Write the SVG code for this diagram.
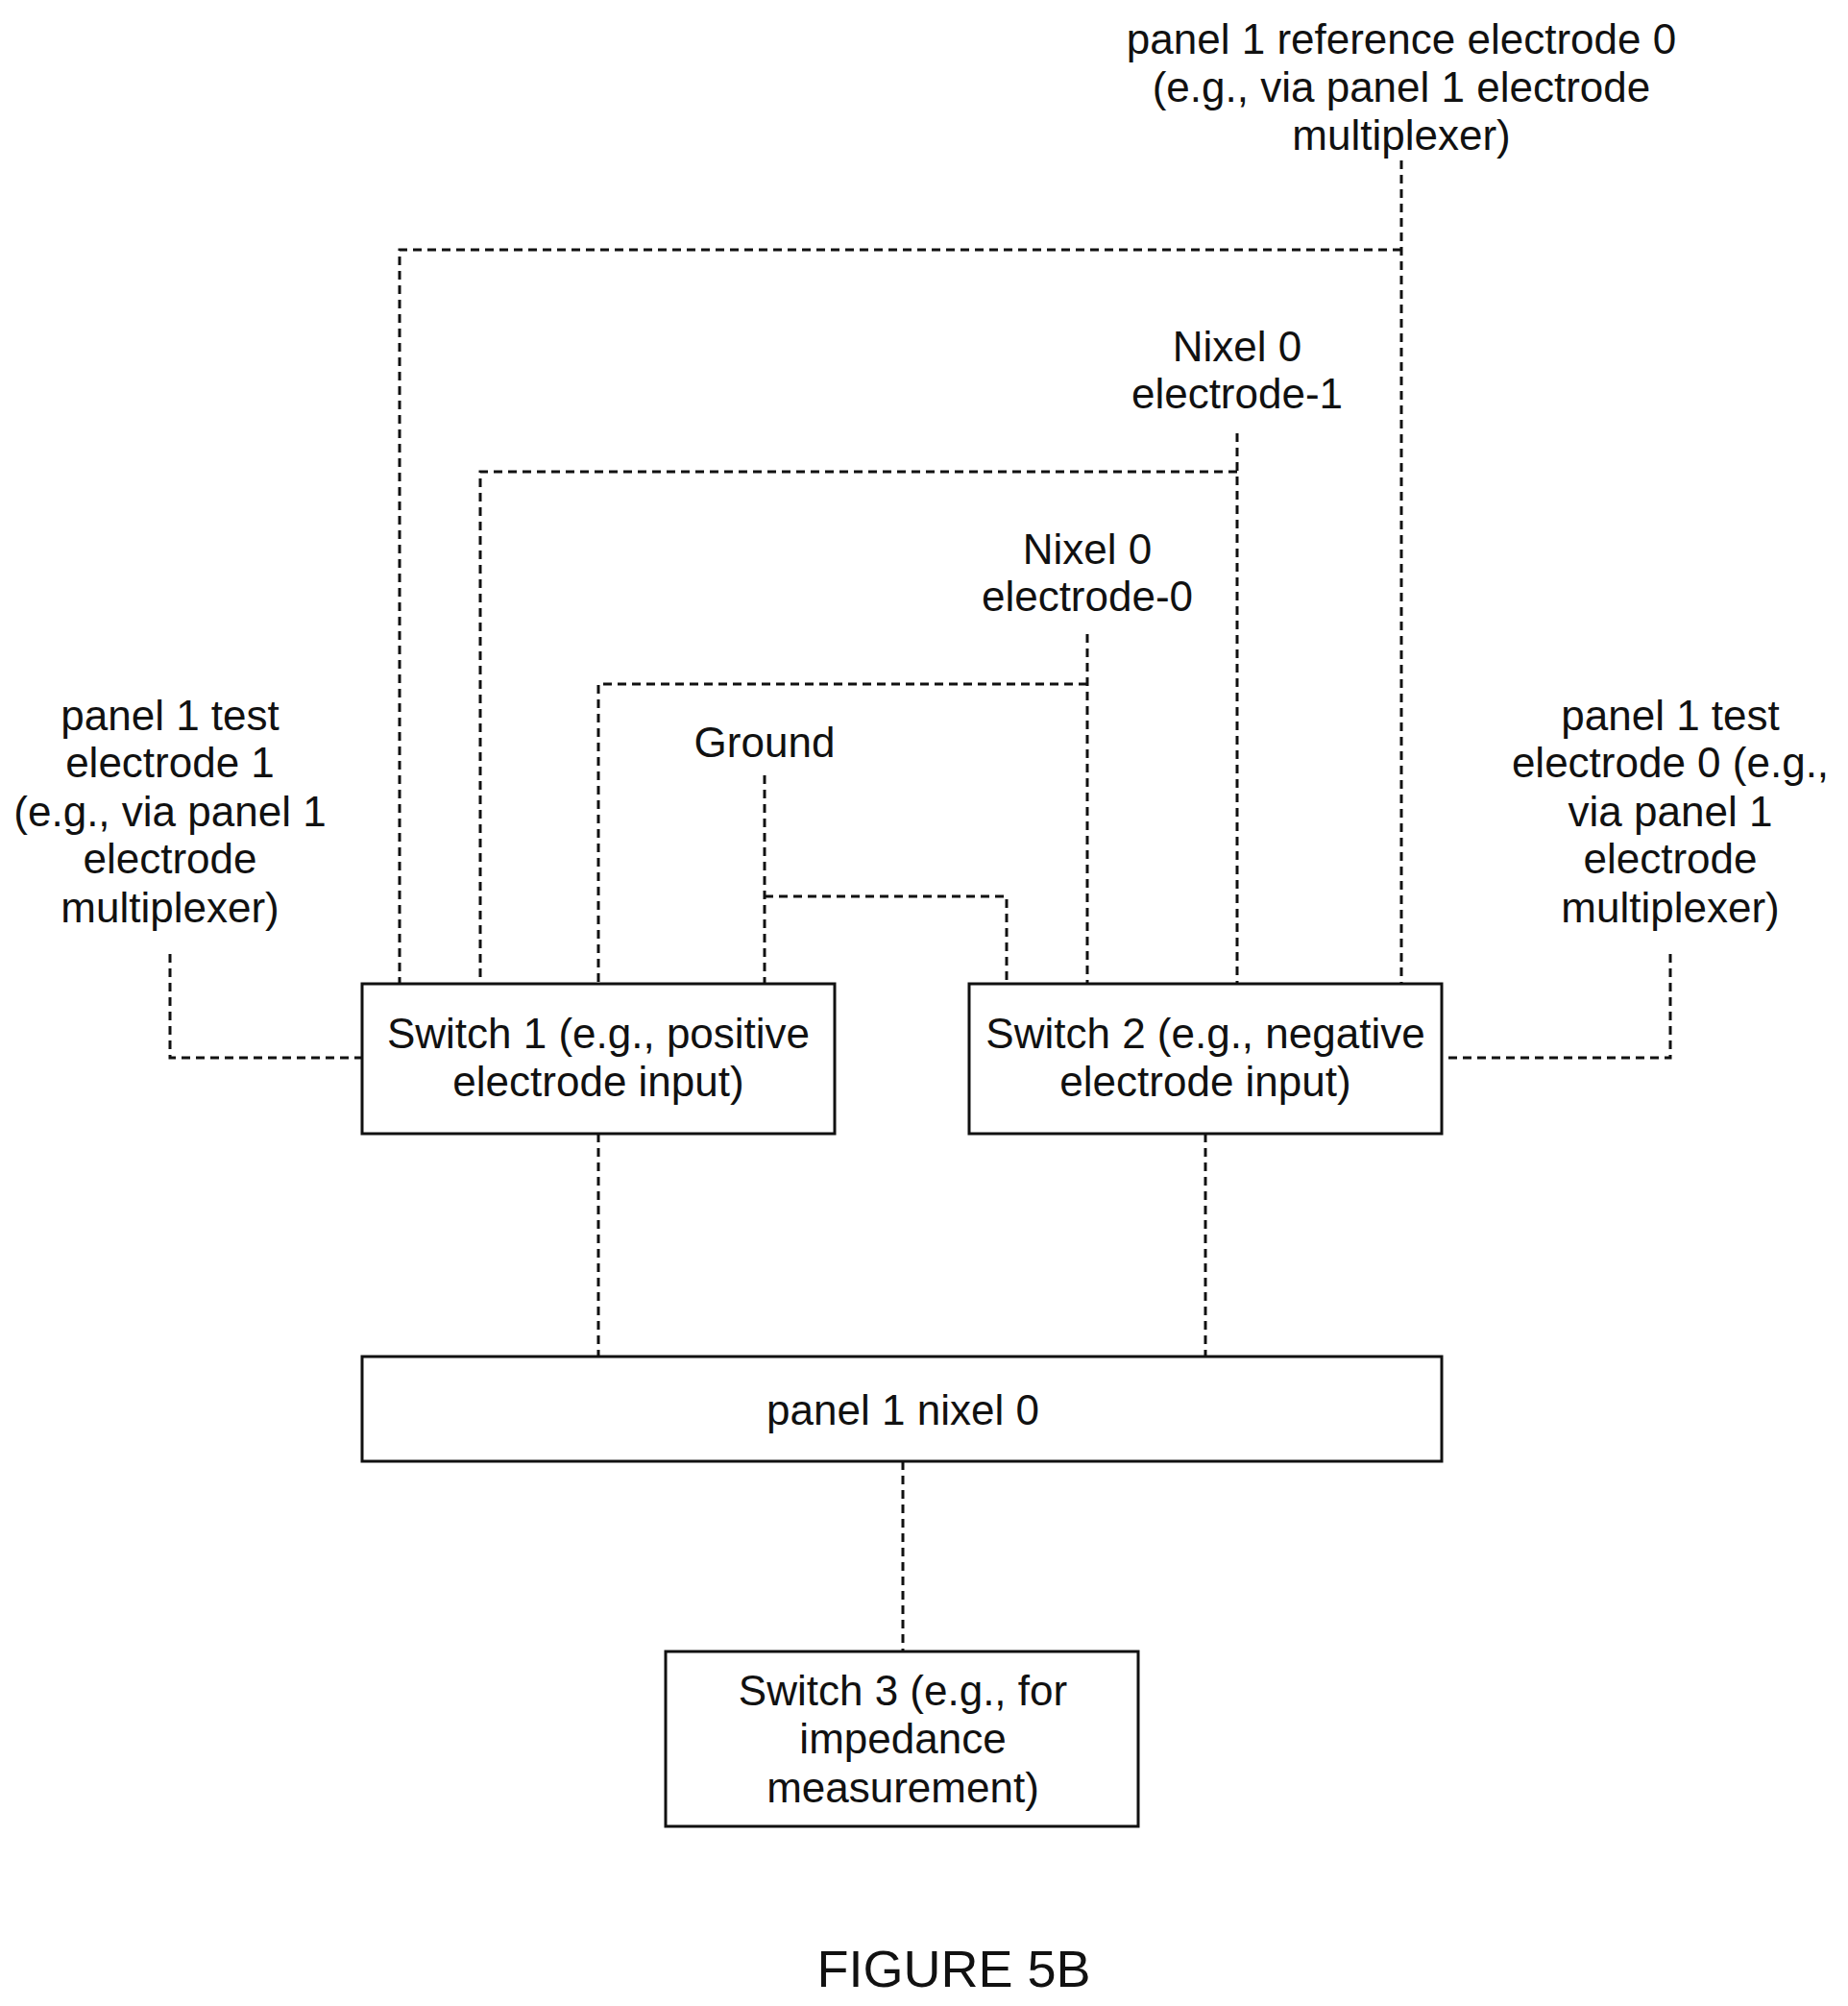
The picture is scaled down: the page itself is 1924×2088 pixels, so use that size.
<svg xmlns="http://www.w3.org/2000/svg" width="1924" height="2088" viewBox="0 0 1924 2088">
<style>
text{font-family:"Liberation Sans",Arial,sans-serif;font-size:44px;fill:#111;text-anchor:middle}
.b{fill:#fff;stroke:#111;stroke-width:3}
.d{fill:none;stroke:#111;stroke-width:3;stroke-dasharray:9 6}
</style>
<rect width="1924" height="2088" fill="#fff"/>
<g id="connectors">
<polyline class="d" points="1459,167 1459,1024"/>
<polyline class="d" points="1459,260 416,260 416,1024"/>
<polyline class="d" points="1288,451 1288,1024"/>
<polyline class="d" points="1288,491 500,491 500,1024"/>
<polyline class="d" points="1132,660 1132,1024"/>
<polyline class="d" points="1132,712 623,712 623,1024"/>
<polyline class="d" points="796,807 796,1024"/>
<polyline class="d" points="796,933 1048,933 1048,1024"/>
<polyline class="d" points="177,993 177,1101 377,1101"/>
<polyline class="d" points="1739,993 1739,1101 1501,1101"/>
<line class="d" x1="623" y1="1180" x2="623" y2="1412"/>
<line class="d" x1="1255" y1="1180" x2="1255" y2="1412"/>
<line class="d" x1="940" y1="1521" x2="940" y2="1719"/>
</g>
<g id="ref0"><text x="1459" y="56">panel 1 reference electrode 0</text><text x="1459" y="106">(e.g., via panel 1 electrode</text><text x="1459" y="156">multiplexer)</text></g>
<g id="e1"><text x="1288" y="376">Nixel 0</text><text x="1288" y="425">electrode-1</text></g>
<g id="e0"><text x="1132" y="587">Nixel 0</text><text x="1132" y="636">electrode-0</text></g>
<g id="ground"><text x="796" y="788">Ground</text></g>
<g id="test1"><text x="177" y="760">panel 1 test</text><text x="177" y="809">electrode 1</text><text x="177" y="860">(e.g., via panel 1</text><text x="177" y="909">electrode</text><text x="177" y="960">multiplexer)</text></g>
<g id="test0"><text x="1739" y="760">panel 1 test</text><text x="1739" y="809">electrode 0 (e.g.,</text><text x="1739" y="860">via panel 1</text><text x="1739" y="909">electrode</text><text x="1739" y="960">multiplexer)</text></g>
<g id="switch1"><rect class="b" x="377" y="1024" width="492" height="156"/><text x="623" y="1091">Switch 1 (e.g., positive</text><text x="623" y="1141">electrode input)</text></g>
<g id="switch2"><rect class="b" x="1009" y="1024" width="492" height="156"/><text x="1255" y="1091">Switch 2 (e.g., negative</text><text x="1255" y="1141">electrode input)</text></g>
<g id="nixel"><rect class="b" x="377" y="1412" width="1124" height="109"/><text x="940" y="1483">panel 1 nixel 0</text></g>
<g id="switch3"><rect class="b" x="693" y="1719" width="492" height="182"/><text x="940" y="1775">Switch 3 (e.g., for</text><text x="940" y="1825">impedance</text><text x="940" y="1876">measurement)</text></g>
<text x="993" y="2068" style="font-size:54px">FIGURE 5B</text>
</svg>
